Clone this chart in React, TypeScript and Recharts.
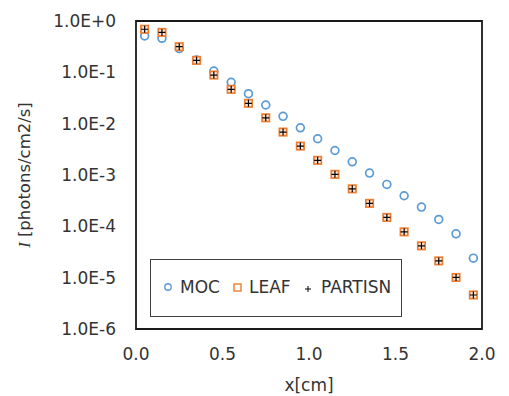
import {
  ScatterChart,
  Scatter,
  XAxis,
  YAxis,
  ReferenceArea,
  Label,
} from 'recharts';

// positions along the slab [cm]
const xPositions = [
  0.05, 0.15, 0.25, 0.35, 0.45, 0.55, 0.65, 0.75, 0.85, 0.95,
  1.05, 1.15, 1.25, 1.35, 1.45, 1.55, 1.65, 1.75, 1.85, 1.95,
];

const mocValues = [
  0.51, 0.46, 0.29, 0.174, 0.106, 0.064, 0.0383, 0.0231, 0.0139, 0.0083,
  0.00508, 0.003, 0.00181, 0.00109, 6.56e-4, 3.94e-4, 2.37e-4, 1.36e-4, 7.14e-5, 2.4e-5,
];

const leafValues = [
  0.69, 0.6, 0.316, 0.171, 0.0886, 0.0466, 0.0249, 0.013, 0.00686, 0.00366,
  0.00193, 0.00103, 5.38e-4, 2.8e-4, 1.49e-4, 7.8e-5, 4.17e-5, 2.12e-5, 1.01e-5, 4.6e-6,
];

const partisnValues = [
  0.69, 0.6, 0.316, 0.171, 0.0886, 0.0466, 0.0249, 0.013, 0.00686, 0.00366,
  0.00193, 0.00103, 5.38e-4, 2.8e-4, 1.49e-4, 7.8e-5, 4.17e-5, 2.12e-5, 1.01e-5, 4.6e-6,
];

const xTicks = [0, 0.5, 1, 1.5, 2];
const yTicks = [1, 1e-1, 1e-2, 1e-3, 1e-4, 1e-5, 1e-6];

const FONT = '"DejaVu Sans", Verdana, sans-serif';
const TEXT = '#333333';
const BLUE = '#5B9BD5';
const ORANGE = '#ED7D31';

const toPoints = (vals: number[]) => xPositions.map((x, i) => ({ x, y: vals[i] }));

const mocData = toPoints(mocValues);
const leafData = toPoints(leafValues);
const partisnData = toPoints(partisnValues);

const formatExp = (v: number) => {
  const e = Math.round(Math.log10(v));
  return `1.0E${e >= 0 ? '+' : ''}${e}`;
};

const CircleShape = (props: any) => (
  <circle cx={props.cx} cy={props.cy} r={3.9} fill="none" stroke={BLUE} strokeWidth={1.7} />
);

const SquareShape = (props: any) => (
  <rect x={props.cx - 3.7} y={props.cy - 3.7} width={7.4} height={7.4} fill="#fde9dc" stroke={ORANGE} strokeWidth={1.7} />
);

const PlusShape = (props: any) => (
  <path
    d={`M${props.cx - 3.5},${props.cy}H${props.cx + 3.5}M${props.cx},${props.cy - 3.5}V${props.cy + 3.5}`}
    stroke="#000"
    strokeWidth={1.2}
  />
);

export default function App() {
  return (
    <div style={{ position: 'absolute', left: 0, top: 0, width: 509, height: 396, background: '#fff' }}>
      <ScatterChart width={509} height={396} margin={{ top: 21, right: 27, left: 0, bottom: 0 }}>
        <XAxis
          type="number"
          dataKey="x"
          domain={[0, 2]}
          ticks={xTicks}
          tickFormatter={(v) => v.toFixed(1)}
          axisLine={false}
          tickLine={false}
          tickSize={0}
          tickMargin={19}
          height={67}
          tick={{ fill: TEXT, fontSize: 17, fontFamily: FONT }}
        >
          <Label
            content={({ viewBox }: any) => (
              <text
                x={viewBox.x + viewBox.width / 2}
                y={391}
                textAnchor="middle"
                fill={TEXT}
                fontSize={17}
                fontFamily={FONT}
              >
                x[cm]
              </text>
            )}
          />
        </XAxis>
        <YAxis
          type="number"
          dataKey="y"
          scale="log"
          domain={[1e-6, 1]}
          ticks={yTicks}
          tickFormatter={formatExp}
          axisLine={false}
          tickLine={false}
          tickSize={0}
          tickMargin={20}
          width={136}
          tick={{ fill: TEXT, fontSize: 17, fontFamily: FONT }}
          allowDataOverflow
        >
          <Label
            content={() => (
              <text
                x={24}
                y={175}
                transform="rotate(-90, 24, 175)"
                textAnchor="middle"
                dominantBaseline="central"
                fill={TEXT}
                fontSize={16.5}
                fontFamily={FONT}
              >
                <tspan fontStyle="italic" fontFamily='"Liberation Serif", serif'>I</tspan>
                <tspan> [photons/cm2/s]</tspan>
              </text>
            )}
          />
        </YAxis>
        <ReferenceArea x1={0} x2={2} y1={1e-6} y2={1} fill="none" stroke="#1a1a1a" strokeWidth={1.8} />
        <Scatter name="MOC" data={mocData} shape={CircleShape} isAnimationActive={false} />
        <Scatter name="LEAF" data={leafData} shape={SquareShape} isAnimationActive={false} />
        <Scatter name="PARTISN" data={partisnData} shape={PlusShape} isAnimationActive={false} />
      </ScatterChart>
      <div
        style={{
          position: 'absolute',
          left: 150,
          top: 259,
          width: 252,
          height: 58,
          boxSizing: 'border-box',
          border: '1px solid #404040',
          background: '#fff',
        }}
      >
        <svg width={250} height={56} style={{ position: 'absolute', left: 0, top: 0 }}>
          <circle cx={17} cy={27} r={3.2} fill="none" stroke={BLUE} strokeWidth={1.4} />
          <text x={29} y={27} dominantBaseline="central" fill={TEXT} fontSize={17} fontFamily={FONT}>MOC</text>
          <rect x={83} y={24} width={7} height={7} fill="none" stroke={ORANGE} strokeWidth={1.4} />
          <text x={98} y={27} dominantBaseline="central" fill={TEXT} fontSize={17} fontFamily={FONT}>LEAF</text>
          <path d="M154,29H160M157,26V32" stroke="#000" strokeWidth={1} />
          <text x={170} y={27} dominantBaseline="central" fill={TEXT} fontSize={17} fontFamily={FONT}>PARTISN</text>
        </svg>
      </div>
    </div>
  );
}
